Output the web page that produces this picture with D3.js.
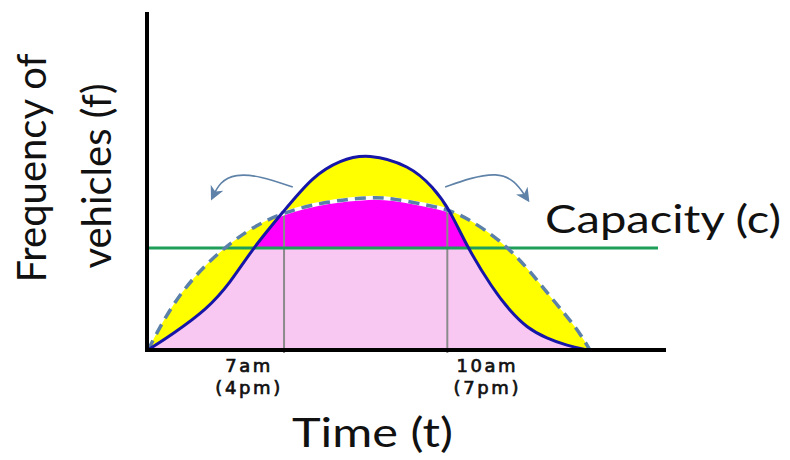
<!DOCTYPE html>
<html>
<head>
<meta charset="utf-8">
<script src="https://cdn.jsdelivr.net/npm/d3@7"></script>
<style>
  html, body { margin: 0; padding: 0; background: #fff; }
  svg { display: block; }
</style>
</head>
<body>
<svg id="chart" width="790" height="460"></svg>
<script>
// ---- data (time in hours, frequency in relative units) ----
const peakTimes   = [4.5, 4.96, 5.58, 6.01, 6.43, 6.98, 7.53, 8.03, 8.54, 9.31, 9.74, 10.05, 10.36, 10.84, 11.15, 11.46, 11.83, 12.2, 12.57];
const peakFreq    = [0, 4.8, 12.0, 19.8, 30.2, 40.8, 51.5, 56.2, 58.2, 54.6, 48.2, 41.4, 30.5, 18.0, 11.6, 6.6, 3.4, 1.3, 0];
const spreadTimes = [4.5, 4.96, 5.58, 6.32, 6.98, 7.79, 8.63, 9.0, 9.63, 10.05, 10.42, 10.97, 11.46, 11.94, 12.38, 12.62];
const spreadFreq  = [0, 14.2, 26.0, 35.6, 40.8, 44.0, 45.3, 44.8, 42.9, 41.4, 38.5, 32.5, 24.6, 14.8, 6.5, 0];
const capacity = 30.2;
const capacityLabel = "Capacity (c)";
const tickTimes  = [7, 10];
const tickCross  = [40.8, 41.4];
const tickLabels = ["7am", "10am"];
const tickLabels2 = ["(4pm)", "(7pm)"];
const shiftLeftArrowT  = [7.16, 6.56, 6.10, 5.82, 5.68];
const shiftLeftArrowF  = [48.2, 51.5, 52.1, 49.7, 45.0];
const shiftRightArrowT = [9.96, 10.42, 10.91, 11.24, 11.48];
const shiftRightArrowF = [48.2, 50.9, 52.4, 50.3, 44.4];
const xTitle = "Time (t)";
const yTitle = ["Frequency of", "vehicles (f)"];

// ---- layout ----
const svg = d3.select("#chart");
const x = d3.scaleLinear().domain([4.5, 14]).range([148, 665]);
const y = d3.scaleLinear().domain([0, 100]).range([350, 12]);

const peak = peakTimes.map((t, i) => [t, peakFreq[i]]);
const spread = spreadTimes.map((t, i) => [t, spreadFreq[i]]);
const curve = d3.curveBasis;

const line = d3.line().x(d => x(d[0])).y(d => y(d[1])).curve(curve);
const area = d3.area().x(d => x(d[0])).y0(y(0)).y1(d => y(d[1])).curve(curve);

const defs = svg.append("defs");
defs.append("clipPath").attr("id", "clipPeak").append("path").attr("d", area(peak));
defs.append("clipPath").attr("id", "clipSpread").append("path").attr("d", area(spread));
defs.append("marker").attr("id", "arrow").attr("viewBox", "0 0 10 10")
  .attr("refX", 8).attr("refY", 5)
  .attr("orient", "auto").attr("markerUnits", "userSpaceOnUse")
  .attr("markerWidth", 14).attr("markerHeight", 14)
  .append("path").attr("d", "M0,0 L10,5 L0,10 L3,5 Z").attr("fill", "#5f82a8");

// yellow: union of both areas
svg.append("path").attr("d", area(peak)).attr("fill", "#ffff00");
svg.append("path").attr("d", area(spread)).attr("fill", "#ffff00");

// intersection: magenta above capacity, pink below
const inter = svg.append("g").attr("clip-path", "url(#clipPeak)")
  .append("g").attr("clip-path", "url(#clipSpread)");
inter.append("rect").attr("x", x(4.5)).attr("y", y(100))
  .attr("width", x(14) - x(4.5)).attr("height", y(capacity) - y(100)).attr("fill", "#ff00ff");
inter.append("rect").attr("x", x(4.5)).attr("y", y(capacity))
  .attr("width", x(14) - x(4.5)).attr("height", y(0) - y(capacity)).attr("fill", "#f9c8f2");

// vertical time markers
svg.selectAll("line.vt").data(tickTimes).join("line").attr("class", "vt")
  .attr("x1", d => x(d)).attr("x2", d => x(d))
  .attr("y1", (d, i) => y(tickCross[i])).attr("y2", y(0) + 3)
  .attr("stroke", "#8a8a8a").attr("stroke-width", 2);

// capacity line
svg.append("line").attr("x1", x(4.5)).attr("x2", 658)
  .attr("y1", y(capacity)).attr("y2", y(capacity))
  .attr("stroke", "#1f9e5a").attr("stroke-width", 3);

// white underlay for dashed where inside peak area
svg.append("g").attr("clip-path", "url(#clipPeak)")
  .append("path").attr("d", line(spread)).attr("fill", "none")
  .attr("stroke", "#fff").attr("stroke-width", 4);

// dashed spread curve
svg.append("path").attr("d", line(spread)).attr("fill", "none")
  .attr("stroke", "#5b80a9").attr("stroke-width", 3.5)
  .attr("stroke-dasharray", "11,7");

// solid peak curve
svg.append("path").attr("d", line(peak)).attr("fill", "none")
  .attr("stroke", "#1616a8").attr("stroke-width", 3);

// shift arrows
const arrowLine = d3.line().x(d => x(d[0])).y(d => y(d[1])).curve(d3.curveBasis);
[[shiftLeftArrowT, shiftLeftArrowF], [shiftRightArrowT, shiftRightArrowF]].forEach(([ts, fs]) => {
  svg.append("path").attr("d", arrowLine(ts.map((t, i) => [t, fs[i]])))
    .attr("fill", "none").attr("stroke", "#5f82a8").attr("stroke-width", 1.6)
    .attr("marker-end", "url(#arrow)");
});

// axes
svg.append("line").attr("x1", 147).attr("x2", 147).attr("y1", y(100)).attr("y2", y(0) + 2)
  .attr("stroke", "#000").attr("stroke-width", 4);
svg.append("line").attr("x1", 145).attr("x2", 666).attr("y1", y(0)).attr("y2", y(0))
  .attr("stroke", "#000").attr("stroke-width", 4);

// tick labels
const tickFont = "'DejaVu Sans', sans-serif";
const offsets = [-35, 40];
function tickText(cls, labels, yy) {
  svg.selectAll("text." + cls).data(tickTimes).join("text").attr("class", cls)
    .attr("x", (d, i) => x(d) + offsets[i]).attr("y", yy)
    .attr("text-anchor", "middle").attr("font-family", tickFont).attr("font-size", 18)
    .attr("letter-spacing", 2.6).attr("fill", "#111").attr("stroke", "#111").attr("stroke-width", 0.7)
    .text((d, i) => labels[i]);
}
tickText("t1", tickLabels, 372);
tickText("t2", tickLabels2, 394);

// titles
const titleFont = "Lato, 'Open Sans', sans-serif";
svg.append("text").attr("x", 292).attr("y", 447)
  .attr("font-family", titleFont).attr("font-size", 40).attr("fill", "#111")
  .attr("textLength", 161).attr("lengthAdjust", "spacingAndGlyphs").text(xTitle);
svg.append("text").attr("x", 545).attr("y", 233)
  .attr("font-family", titleFont).attr("font-size", 39).attr("fill", "#111")
  .attr("textLength", 236).attr("lengthAdjust", "spacingAndGlyphs").text(capacityLabel);
const yt = svg.append("text").attr("transform", "translate(0,168) rotate(-90)")
  .attr("text-anchor", "middle").attr("font-family", titleFont).attr("font-size", 40).attr("fill", "#111");
yt.append("tspan").attr("x", 0).attr("y", 46).text(yTitle[0]);
yt.append("tspan").attr("x", -8).attr("y", 111).text(yTitle[1]);
</script>
</body>
</html>
